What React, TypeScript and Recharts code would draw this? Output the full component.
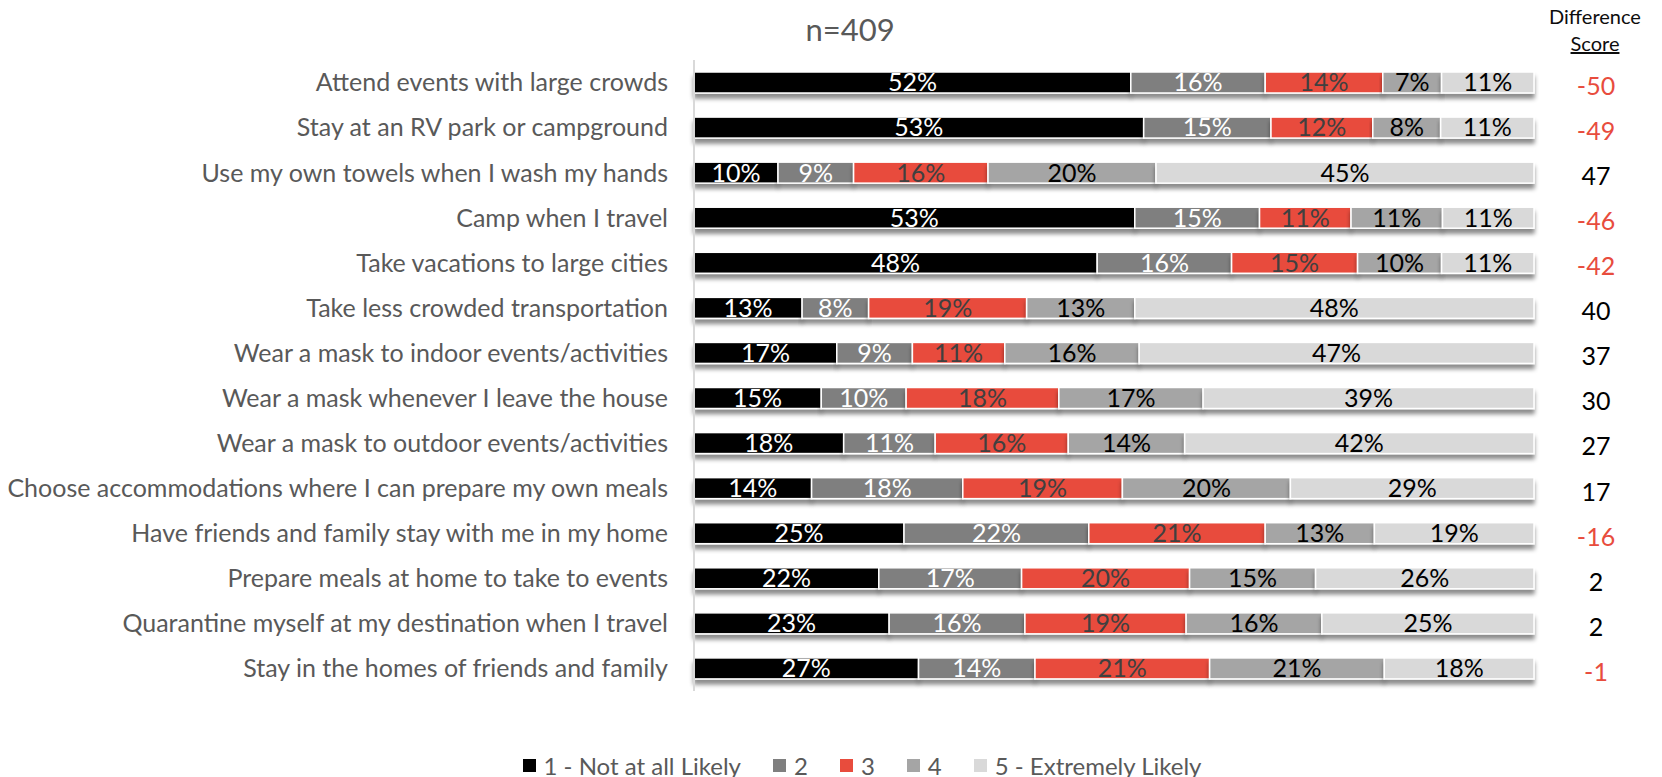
import { BarChart, Bar, XAxis, YAxis, LabelList, Legend } from 'recharts'

const categories = [
  'Attend events with large crowds',
  'Stay at an RV park or campground',
  'Use my own towels when I wash my hands',
  'Camp when I travel',
  'Take vacations to large cities',
  'Take less crowded transportation',
  'Wear a mask to indoor events/activities',
  'Wear a mask whenever I leave the house',
  'Wear a mask to outdoor events/activities',
  'Choose accommodations where I can prepare my own meals',
  'Have friends and family stay with me in my home',
  'Prepare meals at home to take to events',
  'Quarantine myself at my destination when I travel',
  'Stay in the homes of friends and family',
]

const notAtAll = [52, 53, 10, 53, 48, 13, 17, 15, 18, 14, 25, 22, 23, 27]
const two = [16, 15, 9, 15, 16, 8, 9, 10, 11, 18, 22, 17, 16, 14]
const three = [14, 12, 16, 11, 15, 19, 11, 18, 16, 19, 21, 20, 19, 21]
const four = [7, 8, 20, 11, 10, 13, 16, 17, 14, 20, 13, 15, 16, 21]
const extremely = [11, 11, 45, 11, 11, 48, 47, 39, 42, 29, 19, 26, 25, 18]
const diffScores = [-50, -49, 47, -46, -42, 40, 37, 30, 27, 17, -16, 2, 2, -1]

const seriesNames = ['1 - Not at all Likely', '2', '3', '4', '5 - Extremely Likely']

const FONT = 'Lato, sans-serif'
const TEXT_GRAY = '#595959'
const RED = '#E84C3D'

const series = [
  { key: 's1', name: seriesNames[0], fill: '#000000', label: '#ffffff' },
  { key: 's2', name: seriesNames[1], fill: '#7F7F7F', label: '#ffffff' },
  { key: 's3', name: seriesNames[2], fill: RED, label: '#404040' },
  { key: 's4', name: seriesNames[3], fill: '#A5A5A5', label: '#000000' },
  { key: 's5', name: seriesNames[4], fill: '#D9D9D9', label: '#000000' },
]

const data = categories.map((name, i) => ({
  name,
  s1: notAtAll[i],
  s2: two[i],
  s3: three[i],
  s4: four[i],
  s5: extremely[i],
  diff: diffScores[i],
}))

const diffByName: Record<string, number> = {}
data.forEach((d) => (diffByName[d.name] = d.diff))

function ShadowRect(props: any) {
  const { x, y, width, height, fill } = props
  if (!width || width <= 0) return null
  return (
    <rect
      x={x}
      y={y}
      width={width}
      height={height}
      fill={fill}
      stroke="#ffffff"
      strokeWidth={1.5}
      filter="url(#barShadow)"
    />
  )
}

function DiffTick(props: any) {
  const { y, payload } = props
  const v = diffByName[payload.value]
  return (
    <text
      x={1596}
      y={y + 6}
      textAnchor="middle"
      dominantBaseline="middle"
      fontFamily={FONT}
      fontSize={25}
      fill={v < 0 ? RED : '#000000'}
    >
      {v}
    </text>
  )
}

function LegendContent() {
  return (
    <div
      style={{
        display: 'flex',
        justifyContent: 'center',
        gap: 32,
        fontFamily: FONT,
        fontSize: 24,
        color: TEXT_GRAY,
        paddingLeft: 62,
        paddingTop: 14,
      }}
    >
      {series.map((s) => (
        <div key={s.key} style={{ display: 'flex', alignItems: 'center', gap: 8 }}>
          <span style={{ width: 13, height: 13, background: s.fill, display: 'inline-block' }} />
          <span>{s.name}</span>
        </div>
      ))}
    </div>
  )
}

export default function App() {
  return (
    <div style={{ position: 'absolute', left: 0, top: 0, width: 1662, height: 777, background: '#fff' }}>
      <div
        style={{
          position: 'absolute',
          left: 750,
          top: 10,
          width: 200,
          textAlign: 'center',
          fontFamily: FONT,
          fontSize: 31,
          color: TEXT_GRAY,
        }}
      >
        n=409
      </div>
      <div
        style={{
          position: 'absolute',
          left: 1535,
          top: 3,
          width: 120,
          textAlign: 'center',
          fontFamily: FONT,
          fontSize: 20,
          lineHeight: '27px',
          color: '#0d0d0d',
        }}
      >
        <div>Difference</div>
        <div>
          <span style={{ textDecoration: 'underline' }}>Score</span>
        </div>
      </div>
      <BarChart
        width={1662}
        height={777}
        data={data}
        layout="vertical"
        stackOffset="expand"
        barSize={21}
        margin={{ top: 60, right: 0, bottom: 46, left: 0 }}
      >
        <defs>
          <filter id="barShadow" x="-5%" y="-50%" width="110%" height="220%">
            <feDropShadow dx="0" dy="5" stdDeviation="2" floodColor="#000000" floodOpacity="0.45" />
          </filter>
        </defs>
        <XAxis type="number" hide domain={[0, 1]} />
        <YAxis
          yAxisId="left"
          type="category"
          dataKey="name"
          width={694}
          tickLine={false}
          tickMargin={20}
          axisLine={{ stroke: '#D9D9D9', strokeWidth: 2 }}
          tick={{ fill: TEXT_GRAY, fontSize: 25, fontFamily: FONT }}
          interval={0}
        />
        <YAxis
          yAxisId="right"
          orientation="right"
          type="category"
          dataKey="name"
          width={128}
          tickLine={false}
          axisLine={false}
          tick={<DiffTick />}
          interval={0}
        />
        <Legend
          verticalAlign="bottom"
          height={40}
          content={<LegendContent />}
          wrapperStyle={{ bottom: 0 }}
        />
        {series.map((s) => (
          <Bar
            key={s.key}
            yAxisId="left"
            dataKey={s.key}
            name={s.name}
            stackId="a"
            fill={s.fill}
            shape={<ShadowRect />}
            isAnimationActive={false}
          >
            <LabelList
              dataKey={s.key}
              position="center"
              formatter={(v: any) => `${v}%`}
              fill={s.label}
              fontSize={25}
              fontFamily={FONT}
            />
          </Bar>
        ))}
      </BarChart>
    </div>
  )
}
